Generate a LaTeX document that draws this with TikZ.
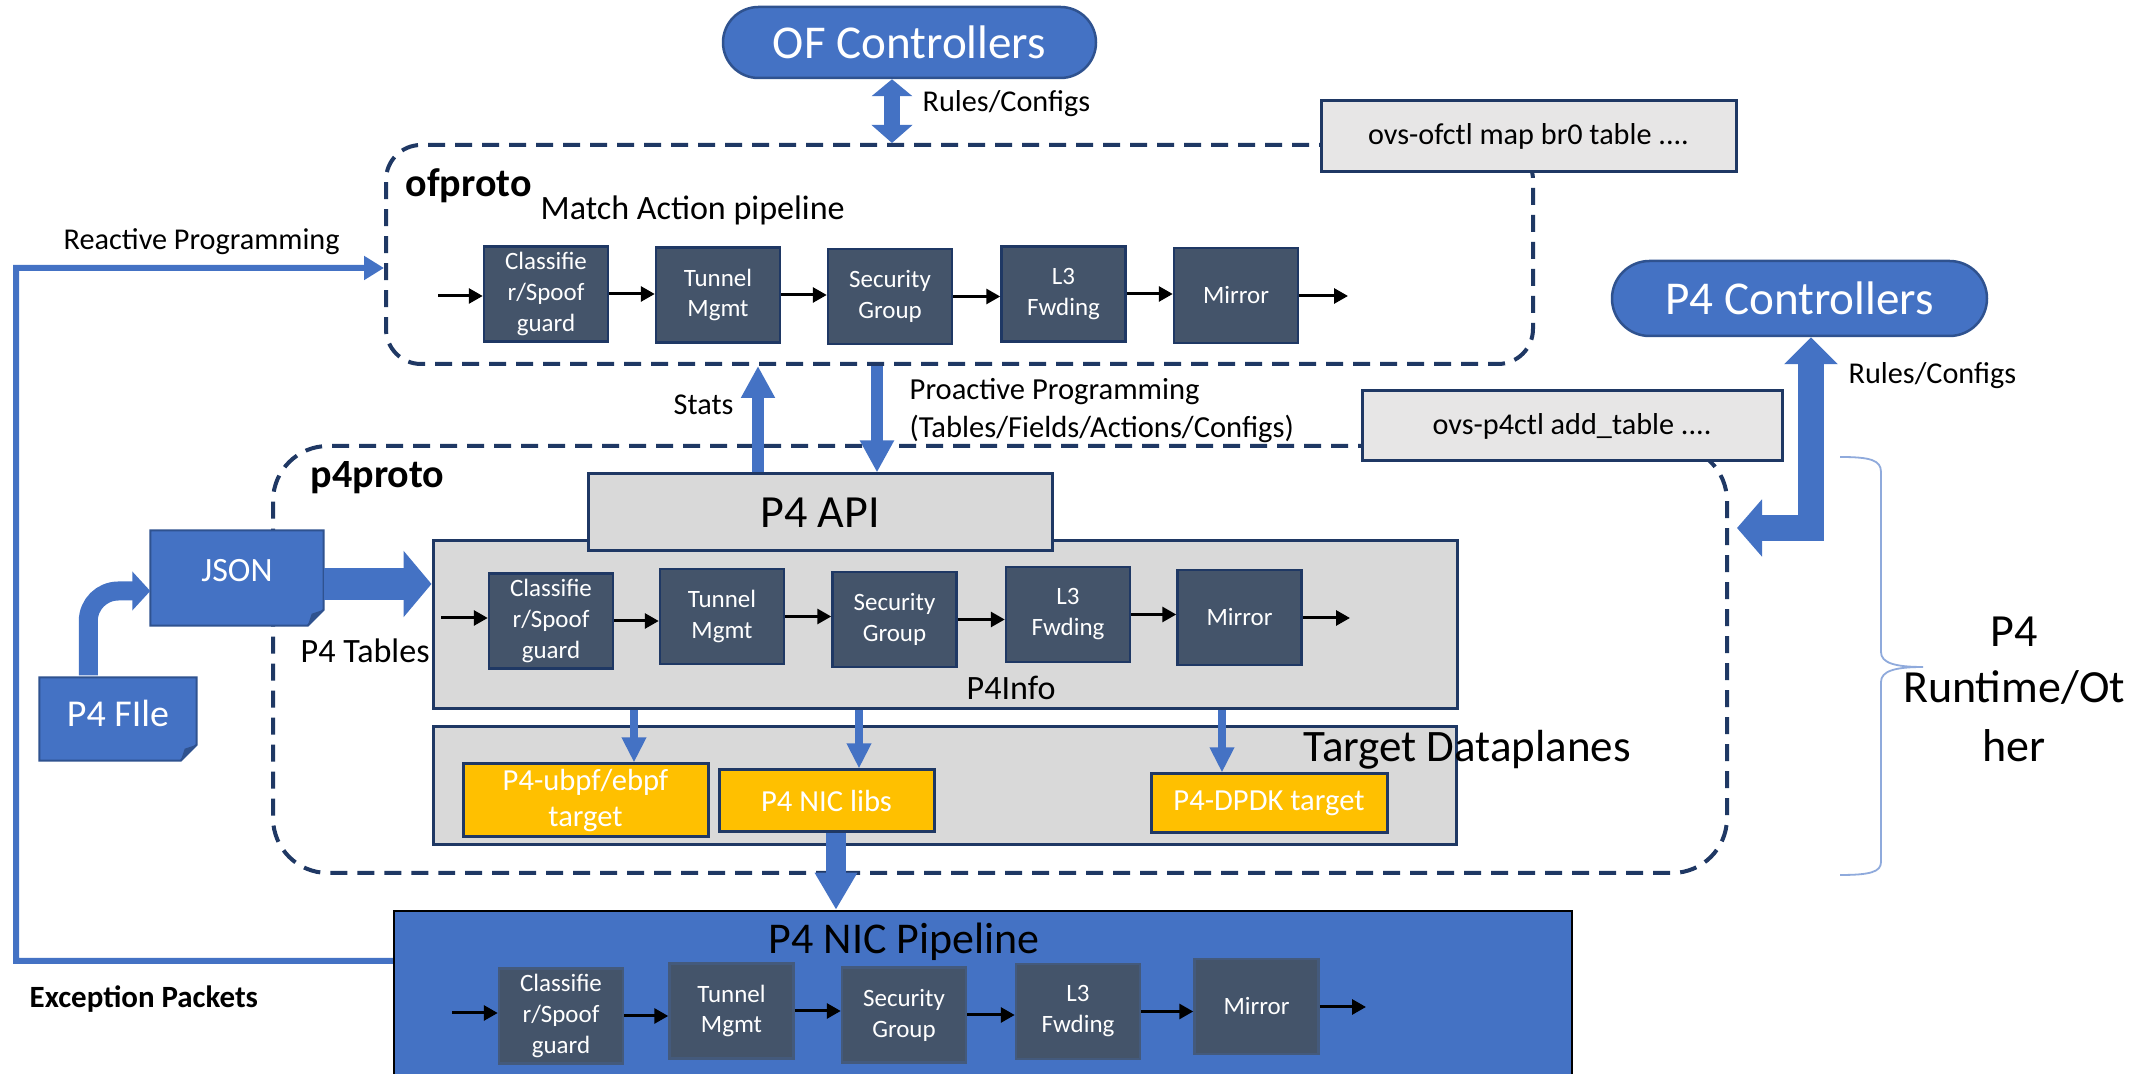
\documentclass[tikz,border=0pt]{standalone}
\usepackage{fontspec}
\setmainfont{Carlito}
\usetikzlibrary{arrows.meta,calc}

\definecolor{obl}{HTML}{4472C4}
\definecolor{obldark}{HTML}{2F528F}
\definecolor{slate}{HTML}{44546A}
\definecolor{navy}{HTML}{1F3864}
\definecolor{lgray}{HTML}{D9D9D9}
\definecolor{xgray}{HTML}{E7E6E6}
\definecolor{gold}{HTML}{FFC000}
\definecolor{bracec}{HTML}{8FAADC}

\newcommand\fsz[2]{\fontsize{#1pt}{#2pt}\selectfont}

\begin{document}
\begin{tikzpicture}[x=0.1mm,y=-0.1mm,
  stage/.style={draw=navy, line width=0.25mm, fill=slate, text=white,
    minimum width=12.4mm, minimum height=9.5mm, inner sep=0pt, align=center,
    font=\fsz{7.1}{8.8}},
  nicstage/.style={stage, draw=slate!80!obl},
  flow/.style={line width=0.3mm, -{Triangle[length=1.4mm,width=1.5mm]}},
  region/.style={draw=navy, line width=0.4mm, dash pattern=on 1.7mm off 1mm,
    inner sep=0pt},
  graybox/.style={draw=navy, line width=0.3mm, fill=lgray, inner sep=0pt},
  cmdbox/.style={draw=navy, line width=0.3mm, fill=xgray, inner sep=0pt,
    font=\fsz{8.6}{10}},
  tgtbox/.style={draw=navy, line width=0.3mm, fill=gold, text=white,
    inner sep=0pt, align=center, font=\fsz{8.7}{10.2}},
  ctrl/.style={fill=obl, draw=obldark, line width=0.25mm, text=white,
    inner sep=0pt, font=\fsz{13.4}{16}},
  lbl/.style={inner sep=0pt, anchor=base west, font=\fsz{8.6}{10}},
  thinblue/.style={draw=obl, line width=0.8mm,
    -{Triangle[length=2.5mm,width=2.3mm]}},
]
\fill[white] (0,0) rectangle (2150,1074);
\useasboundingbox (0,0) rectangle (2150,1074);

% dashed regions
\node[region, rounded corners=3.5mm, minimum width=114.7mm, minimum height=21.9mm]
  (ofproto) at (959.5,254.5) {};
\node[region, rounded corners=5.5mm, minimum width=145.4mm, minimum height=42.7mm]
  (p4proto) at (1000,659.5) {};

% controllers
\node[ctrl, rounded corners=3.55mm, minimum width=37.3mm, minimum height=7.1mm]
  (ofc) at (909.5,42.5) {OF Controllers};
\node[ctrl, rounded corners=3.75mm, minimum width=37.5mm, minimum height=7.5mm]
  (p4c) at (1799.5,298.5) {P4 Controllers};

% command boxes
\node[cmdbox, minimum width=41.5mm, minimum height=7.1mm] (ofctl) at (1528.5,136.5)
  {ovs-ofctl map br0 table ....};
\node[cmdbox, minimum width=42mm, minimum height=7mm] (p4ctl) at (1572,426)
  {ovs-p4ctl add\_table ....};

% p4proto blocks
\node[graybox, minimum width=102.4mm, minimum height=16.8mm] (p4info) at (945,625) {};
\node[graybox, minimum width=102.3mm, minimum height=11.8mm] (tgt) at (944.5,786) {};
\node[graybox, minimum width=46.4mm, minimum height=7.7mm, font=\fsz{13.1}{16}]
  (p4api) at (820,512.5) {P4 API};

\node[tgtbox, minimum width=24.5mm, minimum height=7.3mm] (ubpf) at (585.5,800.5)
  {P4-ubpf/ebpf\\target};
\node[tgtbox, minimum width=21.5mm, minimum height=6.2mm] (niclib) at (826.5,801)
  {P4 NIC libs};
\node[tgtbox, minimum width=23.6mm, minimum height=5.9mm] (dpdk) at (1269,803.5)
  {P4-DPDK target};

% NIC pipeline
\node[draw=black, line width=0.25mm, fill=obl, minimum width=117.8mm,
  minimum height=16.9mm, inner sep=0pt] (nic) at (983,995.5) {};

% JSON and P4 file (folded-corner documents)
\node[minimum width=17.2mm, minimum height=9.4mm, inner sep=0pt] (json) at (237,578) {};
\node[minimum width=15.6mm, minimum height=8.2mm, inner sep=0pt] (p4file) at (118,719) {};
\foreach \d in {json,p4file}{
  \filldraw[fill=obl, draw=obldark, line width=0.2mm]
    (\d.north west) -- (\d.north east) -- ($(\d.south east)+(0,-16)$)
    -- ($(\d.south east)+(-16,0)$) -- (\d.south west) -- cycle;
  \fill[obldark] ($(\d.south east)+(0,-16)$) -- ($(\d.south east)+(-16,0)$)
    -- ($(\d.south east)+(-12,-12)$) -- cycle;
}
\node[text=white, inner sep=0pt, font=\fsz{9.7}{12}] (jsontext) at (237,571) {JSON};
\node[text=white, inner sep=0pt, font=\fsz{10.8}{13}] (p4filetext) at (118,713) {P4 FIle};

% pipeline stages
\node[stage] (o1) at (546,294) {Classifie\\r/Spoof\\guard};
\node[stage] (o2) at (718,295) {Tunnel\\Mgmt};
\node[stage] (o3) at (890,296.5) {Security\\Group};
\node[stage] (o4) at (1063.5,294) {L3\\Fwding};
\node[stage] (o5) at (1236,295.5) {Mirror};

\node[stage] (i1) at (551,621) {Classifie\\r/Spoof\\guard};
\node[stage] (i2) at (722,616.5) {Tunnel\\Mgmt};
\node[stage] (i3) at (894.5,619.5) {Security\\Group};
\node[stage] (i4) at (1068,614.5) {L3\\Fwding};
\node[stage] (i5) at (1239.5,617.5) {Mirror};

\node[nicstage] (n1) at (561,1016) {Classifie\\r/Spoof\\guard};
\node[nicstage] (n2) at (731.5,1011) {Tunnel\\Mgmt};
\node[nicstage] (n3) at (904,1015) {Security\\Group};
\node[nicstage] (n4) at (1078,1011.5) {L3\\Fwding};
\node[nicstage] (n5) at (1256.5,1006.5) {Mirror};

% packet flow arrows
\coordinate (oin) at (438,296);
\coordinate (oout) at (1348,296);
\coordinate (iin) at (441,618);
\coordinate (iout) at (1350,618);
\coordinate (nin) at (452,1013);
\coordinate (nout) at (1366,1007);
\foreach \p in {o,i,n}{
  \draw[flow] (\p in) -- (\p in -| \p1.west);
  \draw[flow] (\p1.east) -- (\p1.east -| \p2.west);
  \draw[flow] (\p2.east) -- (\p2.east -| \p3.west);
  \draw[flow] (\p3.east) -- (\p3.east -| \p4.west);
  \draw[flow] (\p4.east) -- (\p4.east -| \p5.west);
  \draw[flow] (\p5.east |- \p out) -- (\p out);
}

% block arrows
\coordinate (ofa) at ($(ofc.south)+(-17.5,0)$);
\draw[obl, line width=1.6mm,
  {Triangle[length=1.7mm,width=4mm]}-{Triangle[length=1.8mm,width=4mm]}]
  (ofa) -- (ofa |- ofproto.north);

\coordinate (sts) at ($(p4api.north)+(-62,0)$);
\draw[obl, line width=1.2mm, -{Triangle[length=3.2mm,width=3.2mm]}]
  (sts) -- (sts |- ofproto.south);
\coordinate (pro) at ($(p4api.north)+(57,0)$);
\draw[obl, line width=1.2mm, -{Triangle[length=3.2mm,width=3.2mm]}]
  (pro |- ofproto.south) -- (pro);

\coordinate (a1) at ($(p4info.south)+(-311,0)$);
\draw[thinblue] (a1) -- (a1 |- ubpf.north);
\coordinate (a2) at ($(p4info.south)+(-86,0)$);
\draw[thinblue] (a2) -- (a2 |- niclib.north);
\coordinate (a3) at ($(p4info.south)+(277,0)$);
\draw[thinblue] (a3) -- (a3 |- dpdk.north);

\coordinate (a4) at ($(niclib.south)+(9.5,0)$);
\draw[obl, line width=2mm, -{Triangle[length=3.7mm,width=4mm]}]
  (a4) -- (a4 |- nic.north);

\coordinate (j1) at ($(json.east)+(0,6)$);
\draw[obl, line width=3.2mm, -{Triangle[length=2.8mm,width=6.5mm]}]
  (j1) -- (j1 -| p4info.west);

\draw[obl, line width=1.9mm, rounded corners=3mm, -{Triangle[length=1.8mm,width=3.8mm]}]
  ($(p4file.north west)+(49,-2)$) |- ($(json.west)+(0,13)$);

\coordinate (p4in) at (1737,528);
\draw[obl, line width=2.6mm,
  {Triangle[length=2.7mm,width=5.2mm]}-{Triangle[length=2.5mm,width=5.6mm]}]
  ($(p4c.south)+(11.5,0)$) |- (p4in);

% reactive path for exception packets
\draw[obl, line width=0.6mm, -{Triangle[length=2mm,width=2.3mm]}]
  ($(nic.west)+(0,-34.5)$) -| (16,268) -- ($(ofproto.west)+(0,13.5)$);

% brace
\draw[bracec, line width=0.18mm]
  (1840,457) .. controls (1870,457) and (1881,460) .. (1881,472)
  -- (1881,652) .. controls (1881,663) and (1895,667) .. (1923,667)
  .. controls (1895,667) and (1881,671) .. (1881,682)
  -- (1881,862) .. controls (1881,872) and (1870,875) .. (1840,875);

% labels
\node[lbl] at (922,112) {Rules/Configs};
\node[lbl] at (1848,384) {Rules/Configs};
\node[lbl, font=\bfseries\fsz{11.4}{14}] at (405,197) {ofproto};
\node[lbl, font=\fsz{9.7}{12}] at (540,220) {Match Action pipeline};
\node[lbl] at (63,250) {Reactive Programming};
\node[lbl] at (673,415) {Stats};
\node[lbl, font=\fsz{8.7}{10.8}] at (909,400) {Proactive Programming};
\node[lbl, font=\fsz{8.7}{10.8}] at (909,438) {(Tables/Fields/Actions/Configs)};
\node[lbl, font=\bfseries\fsz{11.4}{14}] at (310,488) {p4proto};
\node[lbl, font=\fsz{9.7}{12}] at (300,663) {P4 Tables};
\node[lbl, font=\fsz{9.7}{12}] at (966,700) {P4Info};
\node[lbl, font=\fsz{12.8}{15}] at (1303,762) {Target Dataplanes};
\node[lbl, font=\fsz{12.5}{15}] at (768,954) {P4 NIC Pipeline};
\node[lbl, font=\bfseries\fsz{8.8}{11}] at (29,1008) {Exception Packets};
\node[inner sep=0pt, anchor=base, font=\fsz{13.1}{16}] at (2014,647) {P4};
\node[inner sep=0pt, anchor=base, font=\fsz{13.1}{16}] at (2014,703) {Runtime/Ot};
\node[inner sep=0pt, anchor=base, font=\fsz{13.1}{16}] at (2014,762) {her};
\end{tikzpicture}
\end{document}
